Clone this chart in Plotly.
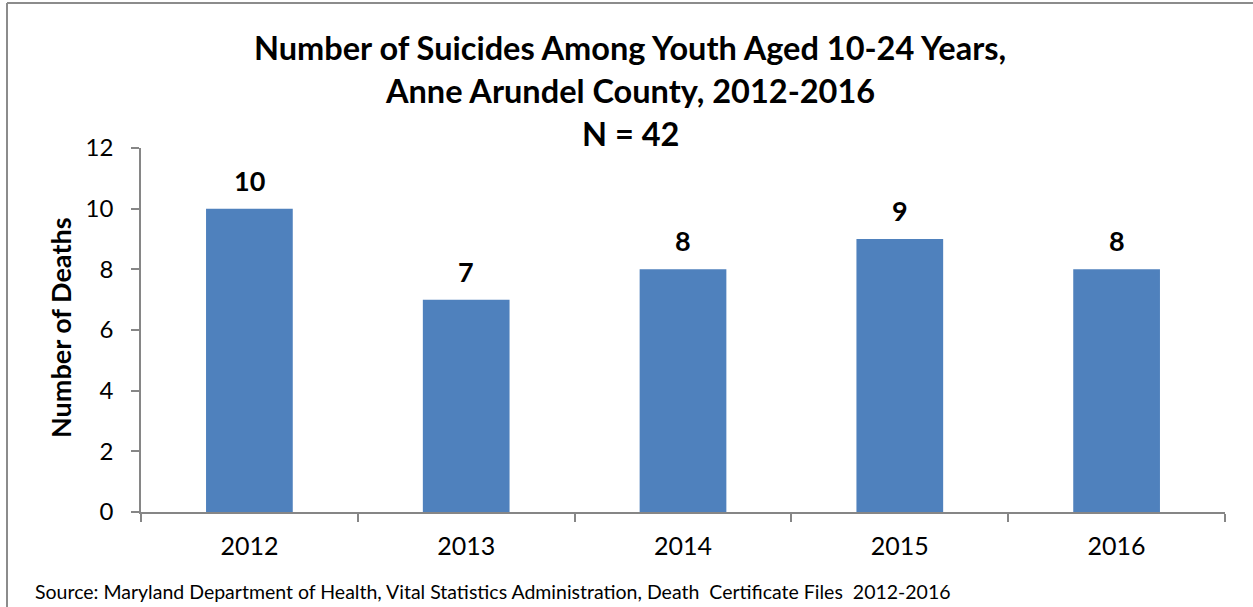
import plotly.graph_objects as go

years = ["2012", "2013", "2014", "2015", "2016"]
deaths = [10, 7, 8, 9, 8]
y_ticks = [0, 2, 4, 6, 8, 10, 12]
title_lines = ["Number of Suicides Among Youth Aged 10-24 Years,",
               "Anne Arundel County, 2012-2016",
               "N = 42"]
y_title = "Number of Deaths"
source = "Source: Maryland Department of Health, Vital Statistics Administration, Death  Certificate Files  2012-2016"

W, H = 1253, 607
L, R, T, B = 141, 28, 148, 95
pw, ph = W - L - R, H - T - B

def px_x(px):
    return (px - L) / pw

def px_y(py):
    return (H - B - py) / ph

FONT = "Lato"
AXIS = "#868686"

fig = go.Figure()
fig.add_trace(go.Bar(x=years, y=deaths, marker=dict(color="#4F81BD", line=dict(width=0)),
                     width=0.4, hoverinfo="x+y"))

annotations = []
for i, v in enumerate(deaths):
    annotations.append(dict(x=i, y=v, xref="x", yref="y", text=f"<b>{v}</b>", showarrow=False,
                            yanchor="bottom", yshift=10, font=dict(family=FONT, size=27, color="black")))
title_y = [47, 91, 134]
for line, ty in zip(title_lines, title_y):
    annotations.append(dict(x=px_x(630), y=px_y(ty), xref="paper", yref="paper", text=f"<b>{line}</b>",
                            showarrow=False, xanchor="center", yanchor="middle",
                            font=dict(family=FONT, size=32.5, color="black")))
annotations.append(dict(x=px_x(60), y=px_y(328), xref="paper", yref="paper", text=f"<b>{y_title}</b>",
                        showarrow=False, textangle=-90, xanchor="center", yanchor="middle",
                        font=dict(family=FONT, size=27, color="black")))
annotations.append(dict(x=px_x(33), y=px_y(591), xref="paper", yref="paper", text=source,
                        showarrow=False, xanchor="left", yanchor="middle",
                        font=dict(family=FONT, size=19.5, color="black")))

shapes = [
    dict(type="line", xref="paper", yref="paper", x0=px_x(7), x1=px_x(W + 5), y0=px_y(3), y1=px_y(3),
         line=dict(color="#8C8C8C", width=2)),
    dict(type="line", xref="paper", yref="paper", x0=px_x(7), x1=px_x(7), y0=px_y(3), y1=px_y(H + 5),
         line=dict(color="#8C8C8C", width=2)),
]

fig.update_layout(
    width=W, height=H, margin=dict(l=L, r=R, t=T, b=B, autoexpand=False),
    paper_bgcolor="white", plot_bgcolor="white", showlegend=False,
    font=dict(family=FONT, size=24, color="black"),
    annotations=annotations, shapes=shapes,
    xaxis=dict(type="category", range=[-0.5, len(years) - 0.5], showline=True, linecolor=AXIS,
               linewidth=1.5, ticks="outside", tickson="boundaries", ticklen=8, tickcolor=AXIS,
               tickwidth=1.5, showgrid=False, tickangle=0,
               tickfont=dict(family=FONT, size=25), ticklabelstandoff=11),
    yaxis=dict(range=[0, 12], tickvals=y_ticks, showline=True, linecolor=AXIS, linewidth=1.5,
               ticks="outside", ticklen=8, tickcolor=AXIS, tickwidth=1.5, showgrid=False,
               zeroline=False, tickfont=dict(family=FONT, size=24), ticklabelstandoff=13),
)

fig.write_html("out.html", config={"displayModeBar": False},
               post_script="document.body.style.margin='0';document.body.style.overflow='hidden';")
